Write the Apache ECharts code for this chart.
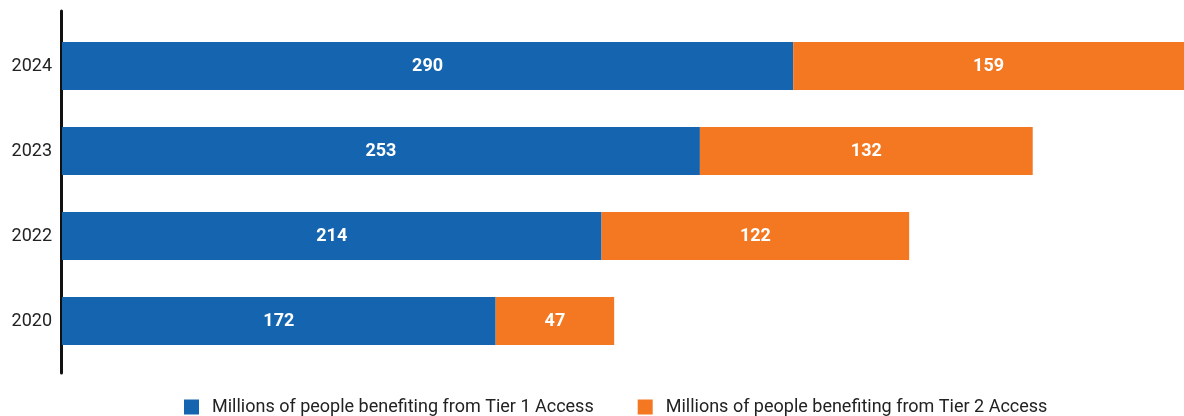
<!DOCTYPE html>
<html>
<head>
<meta charset="utf-8">
<script src="https://cdn.jsdelivr.net/npm/echarts@6/dist/echarts.min.js"></script>
<style>
  html, body { margin: 0; padding: 0; background: #fff; }
  #chart { width: 1184px; height: 416px; }
</style>
</head>
<body>
<div id="chart"></div>
<script>
var years = ['2020', '2022', '2023', '2024'];
var tier1 = [172, 214, 253, 290];
var tier2 = [47, 122, 132, 159];
var seriesNames = ['Millions of people benefiting from Tier 1 Access', 'Millions of people benefiting from Tier 2 Access'];

var font = 'Roboto, "Noto Sans", sans-serif';
var chart = echarts.init(document.getElementById('chart'));

var barLabel = {
    show: true,
    position: 'inside',
    color: '#fff',
    fontFamily: font,
    fontWeight: 'bold',
    fontSize: 18
};

var option = {
    animation: false,
    color: ['#1464af', '#f47721'],
    grid: [
        { left: 62, right: 0, top: 23.5, height: 340 },
        // only here to draw the long axis line
        { left: 61, width: 1, top: 11, bottom: 43 }
    ],
    legend: {
        data: seriesNames,
        left: 184,
        top: 398,
        padding: 0,
        itemWidth: 15,
        itemHeight: 15,
        itemGap: 44,
        icon: 'rect',
        textStyle: {
            fontFamily: font,
            fontSize: 18,
            color: '#222',
            padding: [6, 0, 0, 8]
        }
    },
    xAxis: [
        // max below the 2024 total: that bar runs off the right edge
        { type: 'value', min: 0, max: 445, show: false },
        { type: 'value', gridIndex: 1, show: false }
    ],
    yAxis: [
        {
            type: 'category',
            data: years,
            axisLine: { show: false },
            axisTick: { show: false },
            axisLabel: {
                color: '#222',
                fontFamily: font,
                fontSize: 18,
                margin: 10
            }
        },
        {
            type: 'value',
            gridIndex: 1,
            axisLine: { show: true, lineStyle: { color: '#111', width: 3 } },
            axisTick: { show: false },
            axisLabel: { show: false },
            splitLine: { show: false }
        }
    ],
    series: [
        {
            name: seriesNames[0],
            type: 'bar',
            stack: 'total',
            barWidth: 48,
            label: barLabel,
            data: tier1
        },
        {
            name: seriesNames[1],
            type: 'bar',
            stack: 'total',
            barWidth: 48,
            clip: true,
            label: barLabel,
            data: tier2
        }
    ]
};
chart.setOption(option);
</script>
</body>
</html>
